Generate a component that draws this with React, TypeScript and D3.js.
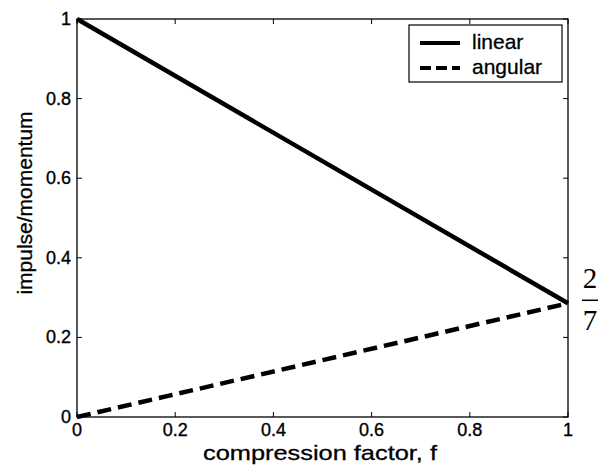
import React, { useEffect, useRef } from "react";
import * as d3 from "d3";

const fValues = [0, 1];
const linear = [1, 2 / 7];
const angular = [0, 2 / 7];
const ticks = [0, 0.2, 0.4, 0.6, 0.8, 1];
const tickLabels = ["0", "0.2", "0.4", "0.6", "0.8", "1"];
const seriesNames = ["linear", "angular"];

const W = 599;
const H = 473;
const M = { left: 77, right: 31, top: 19, bottom: 56 };

function App() {
  const ref = useRef<SVGSVGElement>(null);

  useEffect(() => {
    const svg = d3.select(ref.current);
    svg.selectAll("*").remove();
    const font = "Liberation Sans, Arial, sans-serif";

    const x = d3.scaleLinear().domain([0, 1]).range([M.left, W - M.right]);
    const y = d3.scaleLinear().domain([0, 1]).range([H - M.bottom, M.top]);

    svg.append("rect").attr("width", W).attr("height", H).attr("fill", "#fff");

    // frame
    svg
      .append("rect")
      .attr("x", x(0))
      .attr("y", y(1))
      .attr("width", x(1) - x(0))
      .attr("height", y(0) - y(1))
      .attr("fill", "none")
      .attr("stroke", "#000")
      .attr("stroke-width", 1.3);

    const tk = 5;
    ticks.forEach((t, i) => {
      svg.append("line").attr("x1", x(t)).attr("x2", x(t)).attr("y1", y(0)).attr("y2", y(0) - tk).attr("stroke", "#000");
      svg.append("line").attr("x1", x(t)).attr("x2", x(t)).attr("y1", y(1)).attr("y2", y(1) + tk).attr("stroke", "#000");
      svg.append("line").attr("y1", y(t)).attr("y2", y(t)).attr("x1", x(0)).attr("x2", x(0) + tk).attr("stroke", "#000");
      svg.append("line").attr("y1", y(t)).attr("y2", y(t)).attr("x1", x(1)).attr("x2", x(1) - tk).attr("stroke", "#000");

      svg
        .append("text")
        .attr("x", x(t))
        .attr("y", y(0) + 19)
        .attr("text-anchor", "middle")
        .attr("font-family", font)
        .attr("font-size", 18)
        .attr("stroke", "#000")
        .attr("stroke-width", 0.35)
        .text(tickLabels[i]);
      svg
        .append("text")
        .attr("x", x(0) - 6)
        .attr("y", y(t) + 6)
        .attr("text-anchor", "end")
        .attr("font-family", font)
        .attr("font-size", 18)
        .attr("stroke", "#000")
        .attr("stroke-width", 0.35)
        .text(tickLabels[i]);
    });

    const line = d3
      .line<number>()
      .x((_, i) => x(fValues[i]))
      .y((d) => y(d));

    svg
      .append("path")
      .datum(linear)
      .attr("d", line)
      .attr("fill", "none")
      .attr("stroke", "#000")
      .attr("stroke-width", 4.5);

    svg
      .append("path")
      .datum(angular)
      .attr("d", line)
      .attr("fill", "none")
      .attr("stroke", "#000")
      .attr("stroke-width", 4.5)
      .attr("stroke-dasharray", "14,7");

    // axis titles
    svg
      .append("text")
      .attr("x", 203)
      .attr("y", 460)
      .attr("font-family", font)
      .attr("font-size", 21)
      .attr("stroke", "#000")
      .attr("stroke-width", 0.3)
      .attr("textLength", 234)
      .attr("lengthAdjust", "spacingAndGlyphs")
      .text("compression factor, f");

    svg
      .append("text")
      .attr("transform", "translate(32,203) rotate(-90)")
      .attr("text-anchor", "middle")
      .attr("font-family", font)
      .attr("font-size", 21)
      .attr("stroke", "#000")
      .attr("stroke-width", 0.3)
      .text("impulse/momentum");

    // legend
    const lg = svg.append("g");
    lg.append("rect")
      .attr("x", 409)
      .attr("y", 25)
      .attr("width", 153)
      .attr("height", 57)
      .attr("fill", "#fff")
      .attr("stroke", "#000")
      .attr("stroke-width", 1.2);
    seriesNames.forEach((name, i) => {
      const ly = 43 + i * 25;
      lg.append("line")
        .attr("x1", 420)
        .attr("x2", 460)
        .attr("y1", ly)
        .attr("y2", ly)
        .attr("stroke", "#000")
        .attr("stroke-width", 4)
        .attr("stroke-dasharray", i === 1 ? "11,5" : null);
      lg.append("text")
        .attr("x", 472)
        .attr("y", ly + 6)
        .attr("font-family", font)
        .attr("font-size", 21)
        .attr("stroke", "#000")
        .attr("stroke-width", 0.3)
        .text(name);
    });

    // 2/7 annotation
    const fx = 590;
    const fy = y(2 / 7) - 3;
    const serif = "Liberation Serif, Times New Roman, serif";
    svg.append("text").attr("x", fx).attr("y", fy - 12).attr("text-anchor", "middle").attr("font-family", serif).attr("font-size", 29).text("2");
    svg.append("line").attr("x1", fx - 8).attr("x2", fx + 8).attr("y1", fy).attr("y2", fy).attr("stroke", "#000").attr("stroke-width", 1.5);
    svg.append("text").attr("x", fx).attr("y", fy + 30).attr("text-anchor", "middle").attr("font-family", serif).attr("font-size", 29).text("7");
  }, []);

  return (
    <svg
      ref={ref}
      width={W}
      height={H}
      style={{ position: "absolute", left: 0, top: 0 }}
    ></svg>
  );
}

export default App;
